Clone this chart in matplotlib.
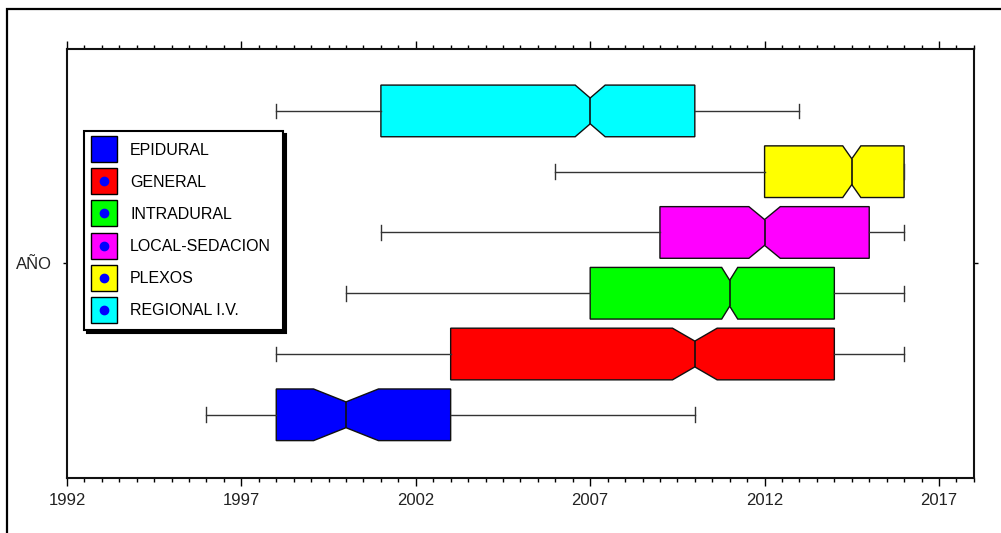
import matplotlib
matplotlib.use("Agg")
import matplotlib.pyplot as plt
from matplotlib.lines import Line2D
from matplotlib.patches import Rectangle
from matplotlib.legend_handler import HandlerTuple

plt.rcParams['font.family'] = ['Liberation Sans', 'DejaVu Sans']

# Anesthesia types, bottom to top
tipos = ['EPIDURAL', 'GENERAL', 'INTRADURAL', 'LOCAL-SEDACION', 'PLEXOS', 'REGIONAL I.V.']
colores = ['#0000FF', '#FF0000', '#00FF00', '#FF00FF', '#FFFF00', '#00FFFF']

# Year summaries per type
minimo = [1996, 1998, 2000, 2001, 2006, 1998]
q1 = [1998, 2003, 2007, 2009, 2012, 2001]
mediana = [2000, 2010, 2011, 2012, 2014.5, 2007]
q3 = [2003, 2014, 2014, 2015, 2016, 2010]
maximo = [2010, 2016, 2016, 2016, 2016, 2013]
ic_mitad = [0.93, 0.64, 0.23, 0.45, 0.26, 0.43]

stats = []
for i in range(len(tipos)):
    stats.append({
        'label': tipos[i],
        'whislo': minimo[i], 'q1': q1[i], 'med': mediana[i],
        'q3': q3[i], 'whishi': maximo[i],
        'cilo': mediana[i] - ic_mitad[i], 'cihi': mediana[i] + ic_mitad[i],
        'fliers': [],
    })

fig = plt.figure(figsize=(10.01, 5.33), dpi=100)
ax = fig.add_axes([0.0669, 0.1032, 0.906, 0.805])

pos = list(range(1, len(tipos) + 1))
bp = ax.bxp(stats, positions=pos, widths=0.85, vert=False, shownotches=True,
            patch_artist=True, showfliers=False, capwidths=0.24,
            boxprops=dict(edgecolor='#111111', linewidth=1.0),
            medianprops=dict(color='#111111', linewidth=1.2),
            whiskerprops=dict(color='#333333', linewidth=1.0),
            capprops=dict(color='#333333', linewidth=1.0))
for caja, c in zip(bp['boxes'], colores):
    caja.set_facecolor(c)

ax.set_xlim(1992, 2018)
ax.set_ylim(-0.04, 7.02)
ax.set_xticks(range(1992, 2018, 5))
ax.set_xticks([1992 + 0.5 * k for k in range(53)], minor=True)
ax.set_yticks([3.49])
ax.set_yticklabels(['AÑO'])
ax.tick_params(axis='x', which='major', direction='out', length=6, width=1,
               top=True, labeltop=False, labelsize=12, labelcolor='#222222', pad=5)
ax.tick_params(axis='x', which='minor', direction='out', length=3, width=1, top=True)
ax.tick_params(axis='y', direction='out', length=3, width=1, right=True,
               labelright=False, labelsize=12, labelcolor='#222222', pad=8)
for s in ax.spines.values():
    s.set_linewidth(1.5)
    s.set_color('#111111')

# legend: colored square with blue dot
handles = []
for i, c in enumerate(colores):
    sq = Line2D([], [], linestyle='none', marker='s', markersize=19,
                markerfacecolor=c, markeredgecolor='black', markeredgewidth=1.0)
    dot = Line2D([], [], linestyle='none', marker='o', markersize=6,
                 markerfacecolor='#0000FF', markeredgecolor='#0000FF')
    handles.append((sq, dot))
leg = ax.legend(handles, tipos, loc='upper left', bbox_to_anchor=(0.0187, 0.809),
                borderaxespad=0, fontsize=11.5, frameon=True, fancybox=False,
                edgecolor='black', shadow={'color': 'black', 'alpha': 1},
                handler_map={tuple: HandlerTuple(ndivide=1)},
                handlelength=1.0, handletextpad=1.15, borderpad=0.75,
                labelspacing=1.07)
leg.get_frame().set_linewidth(1.5)
leg.get_frame().set_alpha(1)

# outer frame of the figure
fig.patches.append(Rectangle((7 / 1001, -0.2), 1.3, (533 - 9) / 533 + 0.2,
                             transform=fig.transFigure, fill=False,
                             edgecolor='black', linewidth=1.6))

fig.savefig('out.png', dpi=100)
